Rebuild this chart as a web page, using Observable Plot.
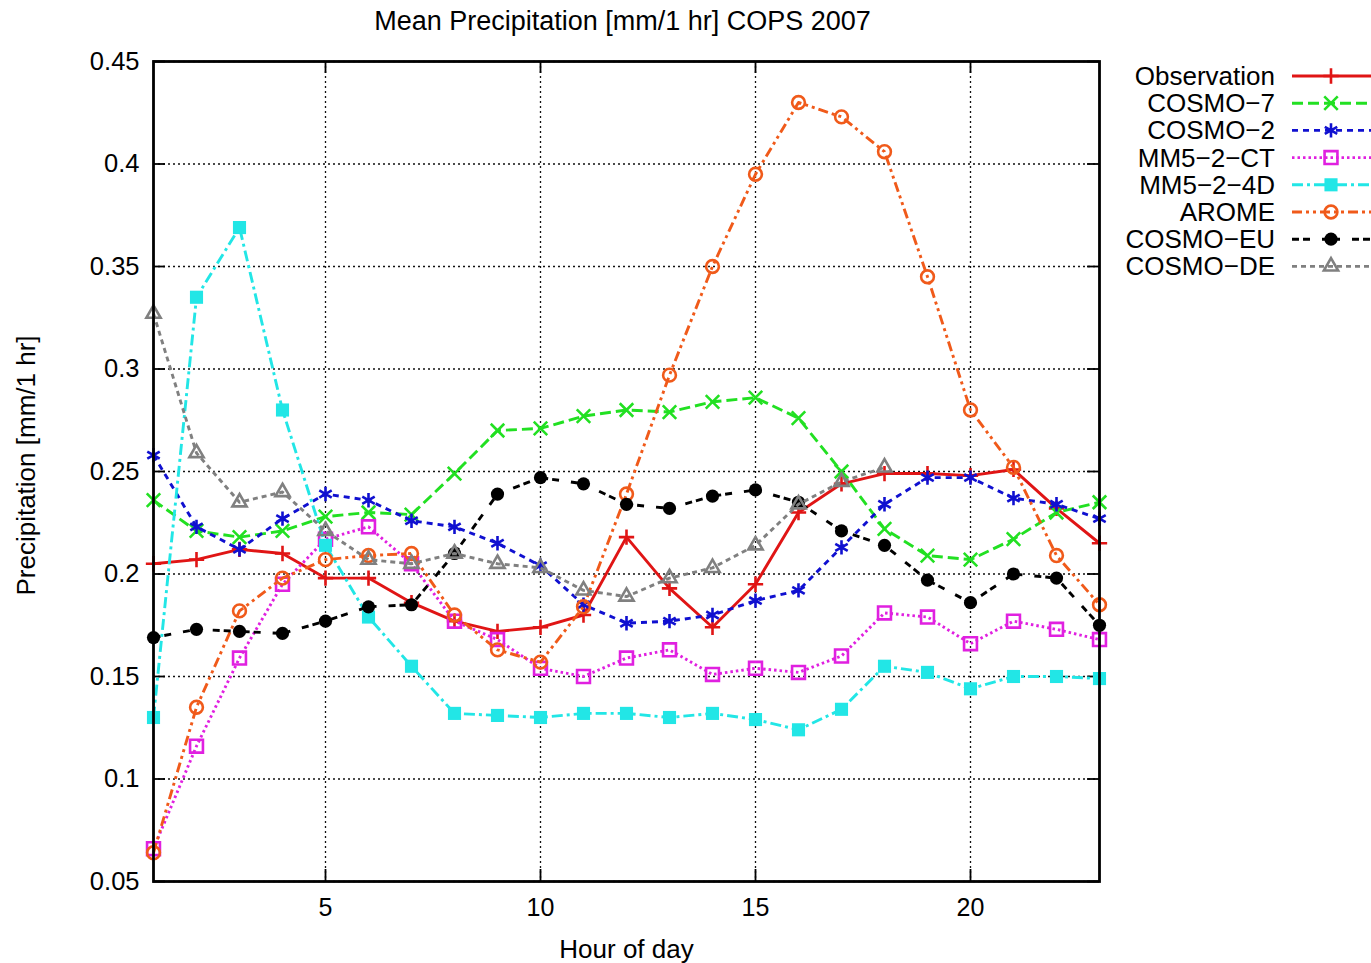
<!DOCTYPE html>
<html>
<head>
<meta charset="utf-8">
<script src="https://cdn.jsdelivr.net/npm/d3@7"></script>
<script src="https://cdn.jsdelivr.net/npm/@observablehq/plot@0.6"></script>
<style>
  html, body { margin: 0; padding: 0; background: #fff; }
  svg { display: block; }
</style>
</head>
<body>
<div id="chart"></div>
<script>
// ---- data ----
const hours = [1,2,3,4,5,6,7,8,9,10,11,12,13,14,15,16,17,18,19,20,21,22,23];
const observation = [0.205,0.207,0.212,0.210,0.198,0.198,0.186,0.177,0.172,0.174,0.180,0.218,0.193,0.174,0.195,0.230,0.244,0.249,0.249,0.248,0.251,0.232,0.215];
const cosmo7 = [0.236,0.221,0.218,0.221,0.228,0.230,0.229,0.249,0.270,0.271,0.277,0.280,0.279,0.284,0.286,0.276,0.250,0.222,0.209,0.207,0.217,0.230,0.235];
const cosmo2 = [0.258,0.223,0.212,0.227,0.239,0.236,0.226,0.223,0.215,0.204,0.185,0.176,0.177,0.180,0.187,0.192,0.213,0.234,0.247,0.247,0.237,0.234,0.227];
const mm5ct = [0.066,0.116,0.159,0.195,0.217,0.223,0.205,0.177,0.168,0.154,0.150,0.159,0.163,0.151,0.154,0.152,0.160,0.181,0.179,0.166,0.177,0.173,0.168];
const mm54d = [0.130,0.335,0.369,0.280,0.214,0.179,0.155,0.132,0.131,0.130,0.132,0.132,0.130,0.132,0.129,0.124,0.134,0.155,0.152,0.144,0.150,0.150,0.149];
const arome = [0.064,0.135,0.182,0.198,0.207,0.209,0.210,0.180,0.163,0.157,0.184,0.239,0.297,0.350,0.395,0.430,0.423,0.406,0.345,0.280,0.252,0.209,0.185];
const cosmoEU = [0.169,0.173,0.172,0.171,0.177,0.184,0.185,0.210,0.239,0.247,0.244,0.234,0.232,0.238,0.241,0.235,0.221,0.214,0.197,0.186,0.200,0.198,0.175];
const cosmoDE = [0.327,0.259,0.235,0.240,0.221,0.207,0.205,0.210,0.205,0.203,0.192,0.189,0.198,0.203,0.214,0.234,0.245,0.252];

const xTicks = [5, 10, 15, 20];
const yTicks = [0.05, 0.1, 0.15, 0.2, 0.25, 0.3, 0.35, 0.4, 0.45];

const titleText = "Mean Precipitation [mm/1 hr] COPS 2007";
const xLabel = "Hour of day";
const yLabel = "Precipitation [mm/1 hr]";

// series styles
const series = [
  {name: "Observation", values: observation, color: "#e01515", dash: null,            symbol: d3.symbolPlus,     r: 5.0, filled: false},
  {name: "COSMO\u22127", values: cosmo7,     color: "#22e022", dash: "11,5",          symbol: d3.symbolTimes,    r: 6.2, filled: false},
  {name: "COSMO\u22122", values: cosmo2,     color: "#1010d0", dash: "6,5",           symbol: d3.symbolAsterisk, r: 6.8, filled: false},
  {name: "MM5\u22122\u2212CT", values: mm5ct, color: "#e020e0", dash: "2.5,3",        symbol: d3.symbolSquare2,  r: 8.2, filled: false},
  {name: "MM5\u22122\u22124D", values: mm54d, color: "#22e6e6", dash: "11,4,3,4",     symbol: d3.symbolSquare,   r: 7.4, filled: true},
  {name: "AROME",       values: arome,       color: "#f05a1a", dash: "10,4,3,4,3,4", symbol: d3.symbolCircle,   r: 6.4, filled: false},
  {name: "COSMO\u2212EU", values: cosmoEU,   color: "#000000", dash: "7,4,7,12",      symbol: d3.symbolCircle,   r: 6.6, filled: true},
  {name: "COSMO\u2212DE", values: cosmoDE,   color: "#808080", dash: "5,4",           symbol: d3.symbolTriangle2, r: 6.8, filled: false}
];

// layout
const W = 1371, H = 963;
const mL = 153, mR = 272, mT = 61, mB = 82;
const innerW = W - mL - mR, innerH = H - mT - mB;
const FONT = "'Liberation Sans', Arial, Helvetica, sans-serif";

const marks = [
  Plot.gridX(xTicks, {stroke: "#111", strokeOpacity: 1, strokeWidth: 1.3, strokeDasharray: "2,3"}),
  Plot.gridY(yTicks, {stroke: "#111", strokeOpacity: 1, strokeWidth: 1.3, strokeDasharray: "2,3"}),
  // inward ticks (gnuplot style)
  Plot.tickY(yTicks, {y: d => d, insetRight: innerW - 12, stroke: "black", strokeWidth: 1.8}),
  Plot.tickY(yTicks, {y: d => d, insetLeft: innerW - 12, stroke: "black", strokeWidth: 1.8}),
  Plot.tickX(xTicks, {x: d => d, insetBottom: innerH - 12, stroke: "black", strokeWidth: 1.8}),
  Plot.tickX(xTicks, {x: d => d, insetTop: innerH - 12, stroke: "black", strokeWidth: 1.8}),
  Plot.axisX({ticks: xTicks, tickSize: 0, tickPadding: 17, fontSize: 25, label: null, tickFormat: d => String(d)}),
  Plot.axisY({ticks: yTicks, tickSize: 0, tickPadding: 14, fontSize: 25.5, label: null, tickFormat: d => String(d)})
];

for (const s of series) {
  const data = s.values.map((v, i) => ({hour: hours[i], value: v}));
  marks.push(Plot.line(data, {
    x: "hour", y: "value", stroke: s.color, strokeWidth: 2.9,
    strokeDasharray: s.dash ?? undefined, strokeLinecap: "butt"
  }));
  marks.push(Plot.dot(data, {
    x: "hour", y: "value", symbol: s.symbol, r: s.r,
    fill: s.filled ? s.color : "none",
    stroke: s.filled ? "none" : s.color,
    strokeWidth: s.filled ? 0 : 2.6
  }));
}

marks.push(
  Plot.frame({stroke: "black", strokeWidth: 2.8}),
  Plot.text([titleText], {frameAnchor: "top", textAnchor: "middle", lineAnchor: "bottom", dy: -32, dx: -4, fontSize: 27, text: d => d}),
  Plot.text([xLabel], {frameAnchor: "bottom", textAnchor: "middle", lineAnchor: "bottom", dy: 76, fontSize: 26, text: d => d}),
  Plot.text([yLabel], {frameAnchor: "left", textAnchor: "middle", lineAnchor: "bottom", rotate: -90, dx: -119, dy: -6, fontSize: 26, text: d => d})
);

const chart = Plot.plot({
  width: W, height: H,
  marginLeft: mL, marginRight: mR, marginTop: mT, marginBottom: mB,
  style: {fontFamily: FONT, fontSize: "25px", color: "black", background: "white"},
  x: {domain: [1, 23]},
  y: {domain: [0.05, 0.45]},
  marks
});

// legend (right side, gnuplot style)
const svg = d3.select(chart);
const lg = svg.append("g").attr("font-family", FONT).attr("font-size", 26);
series.forEach((s, i) => {
  const cy = 76 + i * 27.2;
  lg.append("text").attr("x", 1275).attr("y", cy + 9).attr("text-anchor", "end").attr("fill", "black").text(s.name);
  lg.append("line").attr("x1", 1292).attr("x2", 1371).attr("y1", cy).attr("y2", cy)
    .attr("stroke", s.color).attr("stroke-width", 2.9)
    .attr("stroke-dasharray", s.dash ?? null);
  lg.append("path").attr("transform", `translate(1331,${cy})`)
    .attr("d", d3.symbol(s.symbol, Math.PI * s.r * s.r)())
    .attr("fill", s.filled ? s.color : "none")
    .attr("stroke", s.filled ? "none" : s.color)
    .attr("stroke-width", s.filled ? 0 : 2.6);
});

document.getElementById("chart").appendChild(chart);
</script>
</body>
</html>
